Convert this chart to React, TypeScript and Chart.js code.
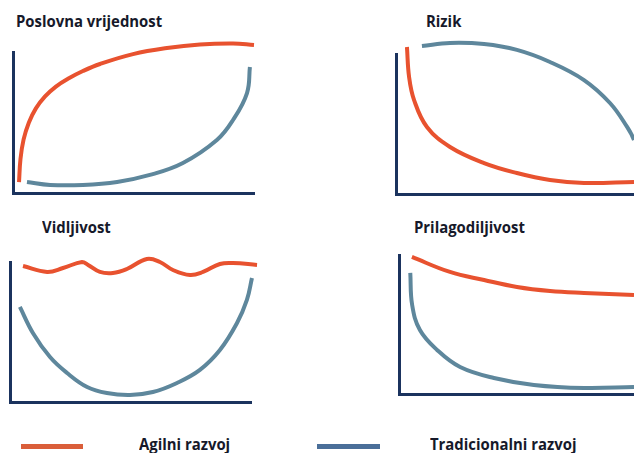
import React, { useEffect, useRef } from 'react';
import { Chart, registerables } from 'chart.js';

Chart.register(...registerables);

const ORANGE = '#E8522F';
const BLUE = '#5E879C';
const NAVY = '#1B335E';
const LEGEND_ORANGE = '#DA5E3A';
const LEGEND_BLUE = '#4A6F99';
const TEXT = '#16192a';

// ---- Data (normalised: x 0..100 along the axis, y 0..100 up the axis) ----
const panelTitles = ['Poslovna vrijednost', 'Rizik', 'Vidljivost', 'Prilagodiljivost'];
const legendLabels = ['Agilni razvoj', 'Tradicionalni razvoj'];

// Poslovna vrijednost
const p1AgileX = [2.5, 3.1, 4.4, 6.6, 9.5, 13.3, 17.8, 22.8, 29.0, 36.1, 49.8, 63.9, 77.6, 91.3, 100];
const p1AgileY = [7.8, 24.0, 38.0, 50.0, 60.0, 68.5, 75.5, 81.0, 86.5, 91.5, 98.5, 102.8, 105.3, 106.0, 105.0];
const p1TradX = [5.8, 15.4, 29.0, 43.2, 56.8, 70.5, 84.6, 91.3, 97.1, 98.3];
const p1TradY = [7.8, 5.7, 5.7, 7.8, 12.8, 21.3, 37.6, 51.8, 70.9, 89.4];

// Rizik
const p2AgileX = [4.6, 5.5, 7.6, 13.0, 22.7, 37.0, 50.8, 64.7, 79.0, 100];
const p2AgileY = [105.0, 83.6, 67.1, 47.9, 33.6, 22.1, 15.0, 10.0, 7.9, 8.6];
const p2TradX = [10.9, 22.7, 37.0, 50.8, 64.7, 79.0, 89.9, 97.1, 100, 102.5];
const p2TradY = [105.7, 107.9, 107.1, 102.9, 94.3, 81.4, 65.0, 47.9, 38.6, 24.3];

// Vidljivost
const p3AgileX = [5.4, 15.4, 22.0, 29.9, 32.4, 37.3, 42.7, 48.5, 56.8, 62.2, 67.6, 74.7, 80.1, 87.1, 92.5, 102.5];
const p3AgileY = [97.1, 92.9, 95.7, 100, 97.9, 92.9, 92.1, 95.0, 102.1, 100, 94.3, 90.7, 92.9, 98.6, 99.3, 97.9];
const p3TradX = [4.1, 9.5, 16.6, 23.7, 32.0, 40.2, 49.8, 59.3, 69.3, 78.8, 87.1, 94.2, 98.3, 100.4];
const p3TradY = [67.9, 49.3, 32.1, 20.7, 10.7, 6.4, 5.0, 7.1, 13.6, 22.9, 37.1, 56.4, 72.9, 88.6];

// Prilagodiljivost
const p4AgileX = [5.5, 21.7, 36.2, 50.2, 64.3, 78.7, 100];
const p4AgileY = [98.6, 87.8, 82.0, 77.0, 74.1, 72.7, 71.2];
const p4TradX = [4.8, 5.6, 8.9, 16.2, 26.0, 40.4, 57.4, 78.7, 100];
const p4TradY = [87.1, 64.0, 46.0, 31.7, 19.4, 11.5, 6.5, 4.3, 5.0];

const pts = (xs: number[], ys: number[]) => xs.map((x, i) => ({ x, y: ys[i] }));

type Box = { left: number; top: number; width: number; height: number };
type Pad = { left: number; top: number; right: number; bottom: number };

function axis() {
  return {
    type: 'linear' as const,
    min: 0,
    max: 100,
    grid: { display: false, drawTicks: false },
    ticks: { display: false },
    border: { display: true, color: NAVY, width: 3 },
  };
}

function Panel({ box, pad, agile, trad }: { box: Box; pad: Pad; agile: { x: number; y: number }[]; trad: { x: number; y: number }[] }) {
  const ref = useRef<HTMLCanvasElement>(null);
  const w = box.width + pad.left + pad.right;
  const h = box.height + pad.top + pad.bottom;
  useEffect(() => {
    const line = (data: any, color: string) => ({
      data,
      showLine: true,
      borderColor: color,
      backgroundColor: color,
      borderWidth: 4,
      pointRadius: 0,
      tension: 0.4,
      clip: false as any,
      borderCapStyle: 'butt' as const,
    });
    const chart = new Chart(ref.current!, {
      type: 'scatter',
      data: { datasets: [line(trad, BLUE), line(agile, ORANGE)] },
      options: {
        animation: false,
        responsive: false,
        events: [],
        layout: { padding: pad },
        plugins: { legend: { display: false }, tooltip: { enabled: false }, title: { display: false } },
        scales: { x: axis(), y: axis() },
      },
    });
    return () => chart.destroy();
  }, []);
  return (
    <canvas
      ref={ref}
      width={w}
      height={h}
      style={{ position: 'absolute', left: box.left - pad.left, top: box.top - pad.top, width: w, height: h }}
    />
  );
}

const titleStyle = (left: number, top: number): React.CSSProperties => ({
  position: 'absolute',
  left,
  top,
  font: '700 16px "Open Sans"',
  lineHeight: '16px',
  color: TEXT,
  whiteSpace: 'nowrap',
  transform: 'scaleX(0.93)',
  transformOrigin: 'left center',
});

export default function App() {
  return (
    <div style={{ position: 'absolute', left: 0, top: 0, width: 634, height: 453, overflow: 'hidden', background: '#fff' }}>
      <Panel box={{ left: 13, top: 52, width: 241, height: 141 }} pad={{ left: 13, top: 17, right: 63, bottom: 12 }}
        agile={pts(p1AgileX, p1AgileY)} trad={pts(p1TradX, p1TradY)} />
      <Panel box={{ left: 396, top: 54, width: 238, height: 140 }} pad={{ left: 21, top: 19, right: 0, bottom: 12 }}
        agile={pts(p2AgileX, p2AgileY)} trad={pts(p2TradX, p2TradY)} />
      <Panel box={{ left: 10, top: 262, width: 241, height: 140 }} pad={{ left: 10, top: 20, right: 66, bottom: 10 }}
        agile={pts(p3AgileX, p3AgileY)} trad={pts(p3TradX, p3TradY)} />
      <Panel box={{ left: 399, top: 255, width: 235, height: 139 }} pad={{ left: 20, top: 15, right: 0, bottom: 12 }}
        agile={pts(p4AgileX, p4AgileY)} trad={pts(p4TradX, p4TradY)} />

      <div style={titleStyle(16, 12.5)}>{panelTitles[0]}</div>
      <div style={titleStyle(426, 12.5)}>{panelTitles[1]}</div>
      <div style={titleStyle(42, 218.5)}>{panelTitles[2]}</div>
      <div style={titleStyle(414, 218.5)}>{panelTitles[3]}</div>

      <div style={{ position: 'absolute', left: 21, top: 444, width: 62, height: 5, background: LEGEND_ORANGE }} />
      <div style={titleStyle(139, 436)}>{legendLabels[0]}</div>
      <div style={{ position: 'absolute', left: 317, top: 444, width: 63, height: 5, background: LEGEND_BLUE }} />
      <div style={titleStyle(430, 436)}>{legendLabels[1]}</div>
    </div>
  );
}
